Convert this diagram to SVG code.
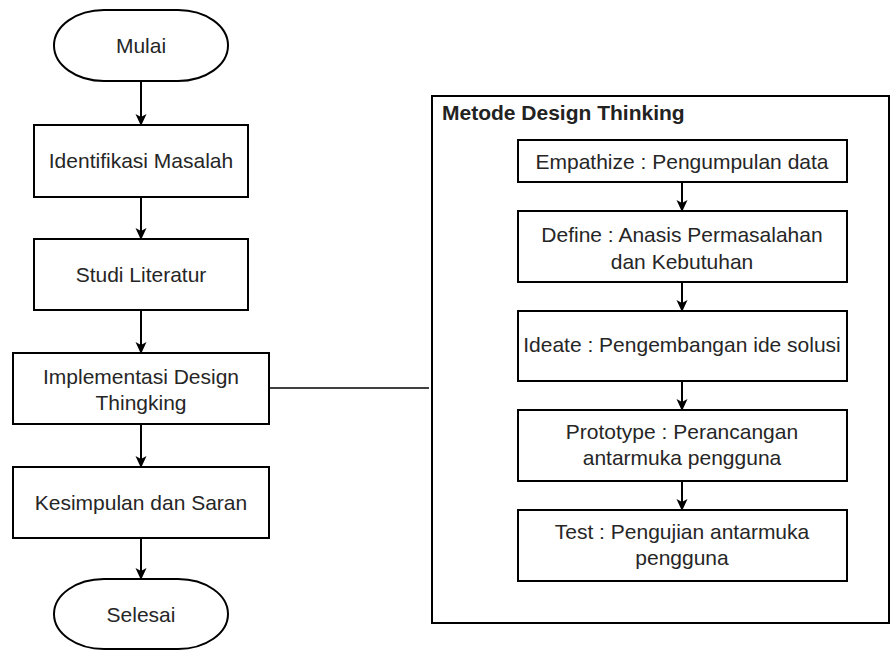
<svg xmlns="http://www.w3.org/2000/svg" width="891" height="650" viewBox="0 0 891 650">
<defs>
<marker id="ah" markerWidth="12" markerHeight="12" refX="11" refY="6" orient="auto" markerUnits="userSpaceOnUse">
<path d="M0,0.5 L12,6 L0,11.5 L3,6 Z" fill="#000"/>
</marker>
</defs>
<style>
.b{fill:#fff;stroke:#000;stroke-width:2}
.t{font-family:"Liberation Sans",Arial,sans-serif;font-size:21px;fill:#262626;text-anchor:middle}
.h{font-family:"Liberation Sans",Arial,sans-serif;font-size:21px;font-weight:bold;fill:#222}
.c{stroke:#000;stroke-width:2;fill:none}
</style>
<rect width="891" height="650" fill="#fff"/>
<g id="container">
<rect x="432" y="96" width="457" height="527" class="b"/>
<text x="442" y="120" class="h">Metode Design Thinking</text>
</g>
<g id="connectors">
<line x1="141" y1="81" x2="141" y2="125" class="c" marker-end="url(#ah)"/>
<line x1="141" y1="197" x2="141" y2="239" class="c" marker-end="url(#ah)"/>
<line x1="141" y1="310" x2="141" y2="353" class="c" marker-end="url(#ah)"/>
<line x1="141" y1="424" x2="141" y2="467" class="c" marker-end="url(#ah)"/>
<line x1="141" y1="538" x2="141" y2="579" class="c" marker-end="url(#ah)"/>
<line x1="269" y1="388" x2="429" y2="388" stroke="#000" stroke-width="1.5"/>
<line x1="682" y1="182" x2="682" y2="211" class="c" marker-end="url(#ah)"/>
<line x1="682" y1="282" x2="682" y2="311" class="c" marker-end="url(#ah)"/>
<line x1="682" y1="381" x2="682" y2="410" class="c" marker-end="url(#ah)"/>
<line x1="682" y1="481" x2="682" y2="510" class="c" marker-end="url(#ah)"/>
</g>
<g id="mulai">
<rect x="54" y="10" width="174" height="71" rx="50" ry="35.5" class="b"/>
<text x="141" y="53" class="t">Mulai</text>
</g>
<g id="identifikasi">
<rect x="34" y="125" width="214" height="72" class="b"/>
<text x="141" y="168" class="t">Identifikasi Masalah</text>
</g>
<g id="studi">
<rect x="34" y="239" width="214" height="71" class="b"/>
<text x="141" y="282" class="t">Studi Literatur</text>
</g>
<g id="implementasi">
<rect x="13" y="353" width="256" height="71" class="b"/>
<text x="141" y="384" class="t">Implementasi Design</text>
<text x="141" y="410" class="t">Thingking</text>
</g>
<g id="kesimpulan">
<rect x="13" y="467" width="256" height="71" class="b"/>
<text x="141" y="510" class="t">Kesimpulan dan Saran</text>
</g>
<g id="selesai">
<rect x="54" y="579" width="174" height="70" rx="50" ry="35" class="b"/>
<text x="141" y="622" class="t">Selesai</text>
</g>
<g id="empathize">
<rect x="518" y="140" width="329" height="42" class="b"/>
<text x="682" y="169" class="t">Empathize : Pengumpulan data</text>
</g>
<g id="define">
<rect x="518" y="211" width="329" height="71" class="b"/>
<text x="682" y="242" class="t">Define : Anasis Permasalahan</text>
<text x="682" y="269" class="t">dan Kebutuhan</text>
</g>
<g id="ideate">
<rect x="518" y="311" width="329" height="70" class="b"/>
<text x="682" y="352" class="t">Ideate : Pengembangan ide solusi</text>
</g>
<g id="prototype">
<rect x="518" y="410" width="329" height="71" class="b"/>
<text x="682" y="439" class="t">Prototype : Perancangan</text>
<text x="682" y="465" class="t">antarmuka pengguna</text>
</g>
<g id="test">
<rect x="518" y="510" width="329" height="71" class="b"/>
<text x="682" y="539" class="t">Test : Pengujian antarmuka</text>
<text x="682" y="565" class="t">pengguna</text>
</g>
</svg>
